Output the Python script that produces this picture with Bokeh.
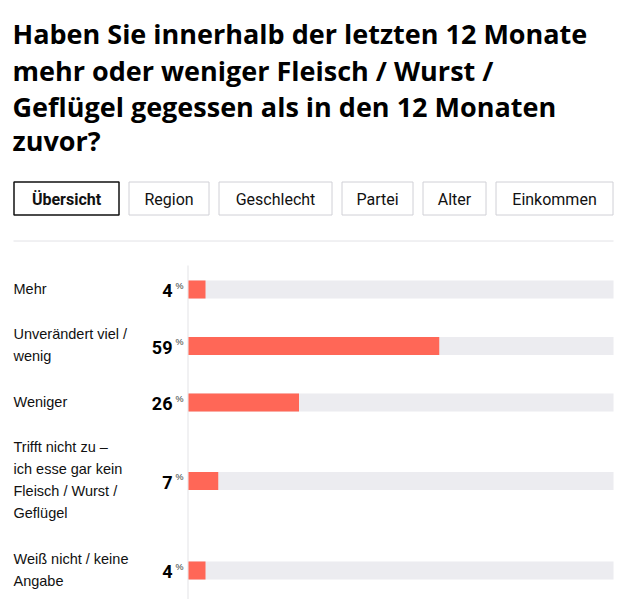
from bokeh.plotting import figure
from bokeh.models import Range1d, ColumnDataSource
from bokeh.layouts import column
from bokeh.embed import file_html
from bokeh.resources import INLINE
from bokeh.core.properties import value

# ---------------- data ----------------
title_lines = [
    "Haben Sie innerhalb der letzten 12 Monate",
    "mehr oder weniger Fleisch / Wurst /",
    "Geflügel gegessen als in den 12 Monaten",
    "zuvor?",
]
tabs = ["Übersicht", "Region", "Geschlecht", "Partei", "Alter", "Einkommen"]
categories = [
    ["Mehr"],
    ["Unverändert viel /", "wenig"],
    ["Weniger"],
    ["Trifft nicht zu –", "ich esse gar kein", "Fleisch / Wurst /", "Geflügel"],
    ["Weiß nicht / keine", "Angabe"],
]
values = [4, 59, 26, 7, 4]

# ---------------- styles / layout ----------------
W = 620
HEAD_H = 248
CHART_H = 351
BAR_COLOR = "#ff6757"
TRACK_COLOR = "#ececf0"
TEXT_COLOR = "#111111"

# header figure (pixel coordinates, y downwards)
head = figure(width=W, height=HEAD_H, output_backend="svg", toolbar_location=None,
              x_range=Range1d(0, W), y_range=Range1d(HEAD_H, 0), min_border=0)
head.axis.visible = False
head.grid.visible = False
head.outline_line_color = None

title_baselines = [33, 70, 106, 140]
head.text(x=[12] * len(title_lines), y=title_baselines, text=title_lines,
          text_font=value("Open Sans"), text_font_style="bold", text_font_size="27px",
          text_color="#000000", text_baseline="alphabetic", text_align="left")

tab_x = [(13, 119), (128, 209), (218, 332), (341, 413), (422, 486), (495, 613)]
tab_top, tab_bot = 181, 215
for i, (lbl, (x0, x1)) in enumerate(zip(tabs, tab_x)):
    active = i == 0
    head.quad(left=[x0 + 0.5], right=[x1 - 0.5], top=[tab_top + 0.5], bottom=[tab_bot - 0.5],
              fill_color="white",
              line_color="#111111" if active else "#d0d0d6",
              line_width=1.5 if active else 1)
    head.text(x=[(x0 + x1) / 2], y=[(tab_top + tab_bot) / 2 + 1], text=[lbl],
              text_font=value("Roboto"), text_font_style="bold" if active else "normal",
              text_font_size="16px", text_color=TEXT_COLOR,
              text_align="center", text_baseline="middle")

head.segment(x0=[13], x1=[613], y0=[240.5], y1=[240.5], line_color="#e2e2e6", line_width=1)

# chart figure: x in percent, y in pixels downward
BAR_START_PX = 188
PX_PER_PCT = 4.25
x_lo = -BAR_START_PX / PX_PER_PCT
x_hi = (W - BAR_START_PX) / PX_PER_PCT


def px(xp):
    return (xp - BAR_START_PX) / PX_PER_PCT


chart = figure(width=W, height=CHART_H, output_backend="svg", toolbar_location=None,
               x_range=Range1d(x_lo, x_hi), y_range=Range1d(CHART_H, 0), min_border=0)
chart.axis.visible = False
chart.grid.visible = False
chart.outline_line_color = None

LINE_H = 22
GAP = 23.5
top = 30
centers = []
lab_x, lab_y, lab_t = [], [], []
for lines in categories:
    h = len(lines) * LINE_H
    centers.append(top + h / 2)
    for j, t in enumerate(lines):
        lab_x.append(px(13))
        lab_y.append(top + LINE_H / 2 + j * LINE_H - 1)
        lab_t.append(t)
    top += h + GAP

chart.segment(x0=[px(187.5)], x1=[px(187.5)], y0=[17], y1=[CHART_H],
              line_color="#e3e3e6", line_width=1)

src = ColumnDataSource(dict(y=centers, v=values, full=[100] * len(values),
                            vt=[str(v) for v in values]))
chart.hbar(y="y", left=0, right="full", height=18, source=src,
           fill_color=TRACK_COLOR, line_color=None)
chart.hbar(y="y", left=0, right="v", height=18, source=src,
           fill_color=BAR_COLOR, line_color=None)

chart.text(x=lab_x, y=lab_y, text=lab_t, text_font=value("Liberation Sans"),
           text_font_size="14.5px", text_color=TEXT_COLOR,
           text_align="left", text_baseline="middle")

chart.text(x=px(172), y="y", text="vt", source=src, text_font=value("Roboto"),
           text_font_style="bold", text_font_size="18px", text_color="#000000",
           text_align="right", text_baseline="middle", y_offset=1)
chart.text(x=px(175), y="y", text=value("%"), source=src, text_font=value("Liberation Sans"),
           text_font_size="9px", text_color="#333333",
           text_align="left", text_baseline="middle", y_offset=-4)

layout = column(head, chart, spacing=0)
open("out.html", "w").write(file_html(layout, INLINE))
